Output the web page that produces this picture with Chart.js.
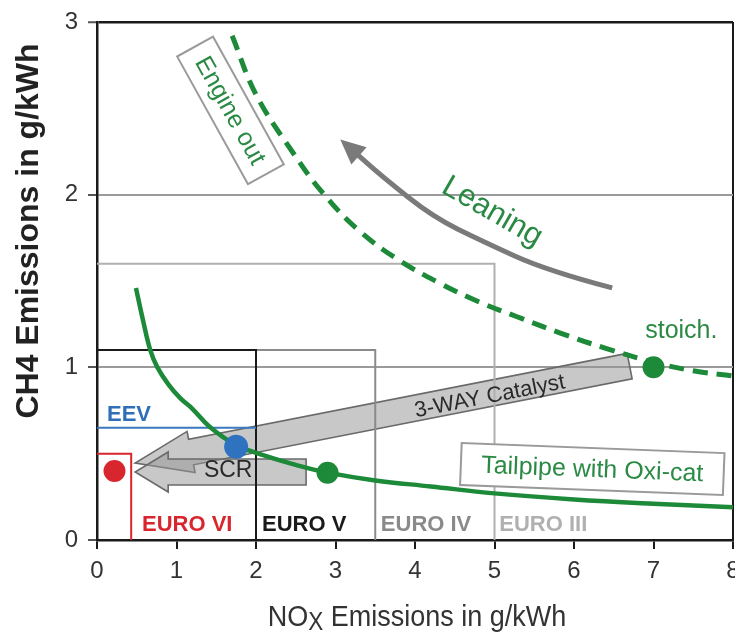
<!DOCTYPE html>
<html>
<head>
<meta charset="utf-8">
<script src="https://cdn.jsdelivr.net/npm/chart.js@4.4.1/dist/chart.umd.min.js"></script>
<style>
  html, body { margin: 0; padding: 0; background: #fff; }
  #wrap { width: 735px; height: 632px; }
</style>
</head>
<body>
<div id="wrap"><canvas id="c" width="735" height="632"></canvas></div>
<script>
// CH4 vs NOx of a gas engine: engine-out trade-off (dashed)
const engineOutNOx = [1.70, 2.00, 2.47, 2.84, 3.30, 3.80, 4.30, 4.80, 5.30, 5.82, 6.40, 7.00, 7.50, 8.00];
const engineOutCH4 = [2.92, 2.58, 2.24, 2.01, 1.79, 1.62, 1.49, 1.38, 1.29, 1.20, 1.11, 1.03, 0.98, 0.95];

// tailpipe after the oxidation catalyst (solid)
const tailpipeNOx = [0.49, 0.58, 0.67, 0.76, 0.90, 1.05, 1.20, 1.42, 1.75, 2.10, 2.50, 2.90, 3.50, 4.20, 5.00, 6.00, 7.00, 8.00];
const tailpipeCH4 = [1.46, 1.27, 1.10, 1.00, 0.90, 0.82, 0.76, 0.655, 0.55, 0.49, 0.435, 0.39, 0.345, 0.31, 0.27, 0.235, 0.21, 0.19];

// emission limits (NOx / CH4, g/kWh)
const limitNames = ['EURO III', 'EURO IV', 'EURO V', 'EURO VI'];
const limitNOx = [5.0, 3.5, 2.0, 0.43];
const limitCH4 = [1.6, 1.1, 1.1, 0.5];
const eevNOx = 2.0;
const eevCH4 = 0.65;

// operating points
const pointNames = ['stoich.', 'Oxi-cat', 'EEV', 'EURO VI'];
const pointNOx = [7.0, 2.9, 1.75, 0.22];
const pointCH4 = [1.0, 0.39, 0.54, 0.40];

// axis ticks
const xTicks = [0, 1, 2, 3, 4, 5, 6, 7, 8];
const yTicks = [0, 1, 2, 3];

// ---- styling ----
const GREEN = '#1c8a38';
const GREEN_TXT = '#2a8a44';
const limitColors = ['#b0b0b0', '#8a8a8a', '#1a1a1a', '#d8262e'];
const pointColors = [GREEN, GREEN, '#2f72c0', '#d8262e'];
const FONT = '"Liberation Sans", Arial, sans-serif';

const xy = (xs, ys) => xs.map((x, i) => ({ x: x, y: ys[i] }));
const boxPath = (nox, ch4) => [{ x: 0, y: ch4 }, { x: nox, y: ch4 }, { x: nox, y: 0 }];

const datasets = [];
// limit boxes (drawn underneath the curves)
limitNames.forEach((name, i) => {
  datasets.push({
    label: name, type: 'line', data: boxPath(limitNOx[i], limitCH4[i]),
    borderColor: limitColors[i], borderWidth: 2, pointRadius: 0, tension: 0,
    fill: false, order: 10 + (3 - i)
  });
});
datasets.push({
  label: 'EEV', type: 'line', data: [{ x: 0, y: eevCH4 }, { x: eevNOx, y: eevCH4 }],
  borderColor: '#3a78c0', borderWidth: 2, pointRadius: 0, fill: false, order: 9
});
datasets.push({
  label: 'Engine out', type: 'line', data: xy(engineOutNOx, engineOutCH4),
  borderColor: GREEN, borderWidth: 5, borderDash: [15, 9], pointRadius: 0,
  tension: 0.4, fill: false, order: 5
});
datasets.push({
  label: 'Tailpipe with Oxi-cat', type: 'line', data: xy(tailpipeNOx, tailpipeCH4),
  borderColor: GREEN, borderWidth: 4.5, pointRadius: 0,
  tension: 0.4, fill: false, order: 4
});
datasets.push({
  label: 'Points', type: 'scatter', data: xy(pointNOx, pointCH4),
  backgroundColor: pointColors, borderColor: pointColors, borderWidth: 0,
  pointRadius: [11, 11, 12, 11], order: 1
});

// annotation anchors in data units
const arrowThreeWay = { from: [6.70, 1.007], to: [0.48, 0.446] };
const arrowSCR = { from: [2.63, 0.394], to: [0.48, 0.394] };
const leaningPath = [[6.48, 1.46], [5.66, 1.56], [4.85, 1.73], [4.23, 1.87], [3.60, 2.10], [3.06, 2.32]];

function blockArrow(ctx, x0, y0, x1, y1, bh, hh, hl) {
  const dx = x1 - x0, dy = y1 - y0, L = Math.hypot(dx, dy);
  const ux = dx / L, uy = dy / L, nx = -uy, ny = ux;
  const bx = x1 - ux * hl, by = y1 - uy * hl;
  ctx.beginPath();
  ctx.moveTo(x0 + nx * bh, y0 + ny * bh);
  ctx.lineTo(bx + nx * bh, by + ny * bh);
  ctx.lineTo(bx + nx * hh, by + ny * hh);
  ctx.lineTo(x1, y1);
  ctx.lineTo(bx - nx * hh, by - ny * hh);
  ctx.lineTo(bx - nx * bh, by - ny * bh);
  ctx.lineTo(x0 - nx * bh, y0 - ny * bh);
  ctx.closePath();
  ctx.fillStyle = 'rgba(150,150,150,0.52)';
  ctx.fill();
  ctx.strokeStyle = '#6a6a6a';
  ctx.lineWidth = 1.6;
  ctx.stroke();
}

function text(ctx, str, x, y, font, color, angleDeg, align, baseline, sx) {
  ctx.save();
  ctx.translate(x, y);
  ctx.rotate((angleDeg || 0) * Math.PI / 180);
  if (sx) ctx.scale(sx, 1);
  ctx.font = font;
  ctx.fillStyle = color;
  ctx.textAlign = align || 'center';
  ctx.textBaseline = baseline || 'middle';
  ctx.fillText(str, 0, 0);
  ctx.restore();
}

function labelBox(ctx, str, x, y, w, h, angleDeg, font) {
  ctx.save();
  ctx.translate(x, y);
  ctx.rotate(angleDeg * Math.PI / 180);
  ctx.fillStyle = '#fff';
  ctx.fillRect(-w / 2, -h / 2, w, h);
  ctx.strokeStyle = '#9a9a9a';
  ctx.lineWidth = 2;
  ctx.strokeRect(-w / 2, -h / 2, w, h);
  ctx.font = font;
  ctx.fillStyle = GREEN_TXT;
  ctx.textAlign = 'center';
  ctx.textBaseline = 'middle';
  ctx.fillText(str, 0, 1);
  ctx.restore();
}

const annotations = {
  id: 'annotations',
  beforeDatasetsDraw(chart) {
    const { ctx } = chart;
    const X = v => chart.scales.x.getPixelForValue(v);
    const Y = v => chart.scales.y.getPixelForValue(v);
    ctx.save();
    // catalyst arrows
    blockArrow(ctx, X(arrowThreeWay.from[0]), Y(arrowThreeWay.from[1]), X(arrowThreeWay.to[0]), Y(arrowThreeWay.to[1]), 13, 21, 57);
    blockArrow(ctx, X(arrowSCR.from[0]), Y(arrowSCR.from[1]), X(arrowSCR.to[0]), Y(arrowSCR.to[1]), 13, 20, 33);

    // curved "Leaning" arrow
    const pts = leaningPath.map(p => [X(p[0]), Y(p[1])]);
    const tip = pts[pts.length - 1], prev = pts[pts.length - 2];
    const dx = tip[0] - prev[0], dy = tip[1] - prev[1], L = Math.hypot(dx, dy);
    const ux = dx / L, uy = dy / L, hl = 25, hh = 11.5;
    const base = [tip[0] - ux * hl, tip[1] - uy * hl];
    const path = pts.slice(0, -1).concat([base]);
    ctx.beginPath();
    ctx.moveTo(path[0][0], path[0][1]);
    for (let i = 1; i < path.length - 1; i++) {
      const mx = (path[i][0] + path[i + 1][0]) / 2, my = (path[i][1] + path[i + 1][1]) / 2;
      ctx.quadraticCurveTo(path[i][0], path[i][1], mx, my);
    }
    ctx.lineTo(base[0] + ux * 2, base[1] + uy * 2);
    ctx.strokeStyle = '#7a7a7a';
    ctx.lineWidth = 5;
    ctx.lineCap = 'butt';
    ctx.stroke();
    ctx.beginPath();
    ctx.moveTo(tip[0], tip[1]);
    ctx.lineTo(base[0] - uy * hh, base[1] + ux * hh);
    ctx.lineTo(base[0] + uy * hh, base[1] - ux * hh);
    ctx.closePath();
    ctx.fillStyle = '#7a7a7a';
    ctx.fill();
    ctx.restore();
  },
  afterDatasetsDraw(chart) {
    const { ctx } = chart;
    const X = v => chart.scales.x.getPixelForValue(v);
    const Y = v => chart.scales.y.getPixelForValue(v);

    labelBox(ctx, 'Engine out', X(1.679), Y(2.488), 146, 41, 61, '25px ' + FONT);
    labelBox(ctx, 'Tailpipe with Oxi-cat', X(6.23), Y(0.411), 263, 42, 2.2, '25px ' + FONT);

    text(ctx, 'Leaning', X(4.97), Y(1.90), '31px ' + FONT, GREEN_TXT, 30);
    text(ctx, 'stoich.', X(7.35), Y(1.21), '25px ' + FONT, GREEN_TXT, 0);
    text(ctx, '3-WAY Catalyst', X(4.94), Y(0.83), '22px ' + FONT, '#2a2a2a', -11);
    text(ctx, 'SCR', X(1.65), Y(0.40), '23px ' + FONT, '#2a2a2a', 0);
    text(ctx, 'EEV', X(0.126), Y(0.69), 'bold 22px ' + FONT, '#2f6fb8', 0, 'left', 'alphabetic');

    const limitLabelX = [5.06, 3.57, 2.075, 0.566];
    limitNames.forEach((name, i) => {
      text(ctx, name, X(limitLabelX[i]), Y(0.05), 'bold 22px ' + FONT, limitColors[i], 0, 'left', 'alphabetic');
    });
  },
  afterDraw(chart) {
    const { ctx } = chart;
    const a = chart.chartArea;
    // y-axis title
    text(ctx, 'CH4 Emissions in g/kWh', 29, 231, 'bold 32px ' + FONT, '#222', -90);
    // x-axis title with subscript X, slightly condensed
    ctx.save();
    const sx = 0.9;
    const big = '30px ' + FONT, small = '25px ' + FONT;
    ctx.font = big; const w1 = ctx.measureText('NO').width; const w3 = ctx.measureText(' Emissions in g/kWh').width;
    ctx.font = small; const w2 = ctx.measureText('X').width;
    const total = (w1 + w2 + w3) * sx;
    ctx.translate((a.left + a.right) / 2 - total / 2 + 2, 626);
    ctx.scale(sx, 1);
    let x = 0;
    ctx.fillStyle = '#333';
    ctx.textBaseline = 'alphabetic';
    ctx.textAlign = 'left';
    ctx.font = big; ctx.fillText('NO', x, 0); x += w1;
    ctx.font = small; ctx.fillText('X', x, 4); x += w2;
    ctx.font = big; ctx.fillText(' Emissions in g/kWh', x, 0);
    ctx.restore();
  }
};

new Chart(document.getElementById('c'), {
  type: 'scatter',
  data: { datasets: datasets },
  plugins: [annotations],
  options: {
    responsive: false,
    animation: false,
    layout: { autoPadding: false, padding: { top: 22, right: 2, left: 0, bottom: 0 } },
    plugins: { legend: { display: false }, tooltip: { enabled: false } },
    scales: {
      x: {
        type: 'linear', min: 0, max: 8,
        afterBuildTicks: s => { s.ticks = xTicks.map(v => ({ value: v })); },
        afterFit: s => { s.height = 92; s.paddingLeft = 0; s.paddingRight = 0; },
        ticks: { font: { family: FONT, size: 24 }, color: '#333', padding: 8, maxRotation: 0, autoSkip: false },
        grid: {
          drawOnChartArea: true,
          color: c => (c.tick && c.tick.value === 8) ? '#1a1a1a' : 'rgba(0,0,0,0)',
          lineWidth: 2, tickColor: '#1a1a1a', tickLength: 9, tickWidth: 2
        },
        border: { color: '#1a1a1a', width: 2.5 }
      },
      y: {
        type: 'linear', min: 0, max: 3,
        afterBuildTicks: s => { s.ticks = yTicks.map(v => ({ value: v })); },
        afterFit: s => { s.width = 97; s.paddingTop = 0; s.paddingBottom = 0; },
        ticks: { font: { family: FONT, size: 24 }, color: '#333', padding: 10, autoSkip: false },
        grid: {
          drawOnChartArea: true,
          color: c => {
            const v = c.tick && c.tick.value;
            if (v === 3) return '#1a1a1a';
            if (v === 1 || v === 2) return '#9a9a9a';
            return 'rgba(0,0,0,0)';
          },
          lineWidth: c => (c.tick && c.tick.value === 3) ? 2.5 : 2,
          tickColor: '#555', tickLength: 9, tickWidth: 2
        },
        border: { color: '#1a1a1a', width: 2.5 }
      }
    }
  }
});
</script>
</body>
</html>
